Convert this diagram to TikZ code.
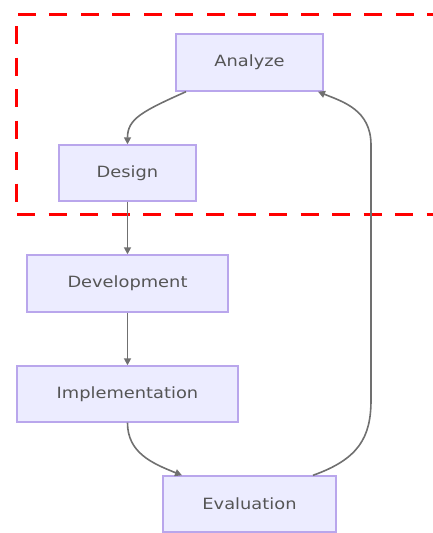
\documentclass[tikz,border=0pt]{standalone}
\usepackage{fontspec}
\setmainfont{DejaVu Sans}[FakeStretch=1.15]
\usetikzlibrary{arrows.meta,calc}
\definecolor{boxfill}{HTML}{ECECFF}
\definecolor{boxline}{HTML}{B9A6EC}
\definecolor{txt}{HTML}{555555}
\definecolor{edgec}{HTML}{707070}
\begin{document}
\begin{tikzpicture}[x=1pt,y=-1pt,
  proc/.style={draw=boxline, fill=boxfill, line width=1.4pt, inner sep=0pt,
    text=txt, font=\fontsize{15.5}{18}\selectfont},
  flow/.style={draw=edgec, line width=1.6pt, -{Triangle[length=7pt,width=7pt]}},
  frame/.style={draw=red, line width=3pt, dash pattern=on 18pt off 13.5pt}]
\useasboundingbox (0,0) rectangle (433,533);
\begin{scope}
\clip (0,0) rectangle (433,533);
\draw[frame] (445,14) -- (16,14) -- (16,214) -- (445,214);
\end{scope}
\node[proc, minimum width=147pt, minimum height=57pt] (an) at (249.5,62.5) {Analyze};
\node[proc, minimum width=137pt, minimum height=56pt] (de) at (127.5,173) {Design};
\node[proc, minimum width=201pt, minimum height=57pt] (dv) at (127.5,283.5) {Development};
\node[proc, minimum width=221pt, minimum height=56pt] (im) at (127.5,394) {Implementation};
\node[proc, minimum width=173pt, minimum height=56pt] (ev) at (249.5,504) {Evaluation};
\draw[flow] ([xshift=-63.5pt]an.south) .. controls +(-45,20) and +(0,-25) .. (de.north);
\draw[flow] (de.south) -- (dv.north);
\draw[flow] (dv.south) -- (im.north);
\draw[flow] (im.south) .. controls +(0,30) and +(-30,-12) .. ([xshift=-67.5pt]ev.north);
\draw[flow] ([xshift=63.5pt]ev.north) .. controls +(45,-16) and +(0,38) .. (371,400)
  -- (371,145) .. controls +(0,-35) and +(25,10) .. ([xshift=68.5pt]an.south);
\end{tikzpicture}
\end{document}
